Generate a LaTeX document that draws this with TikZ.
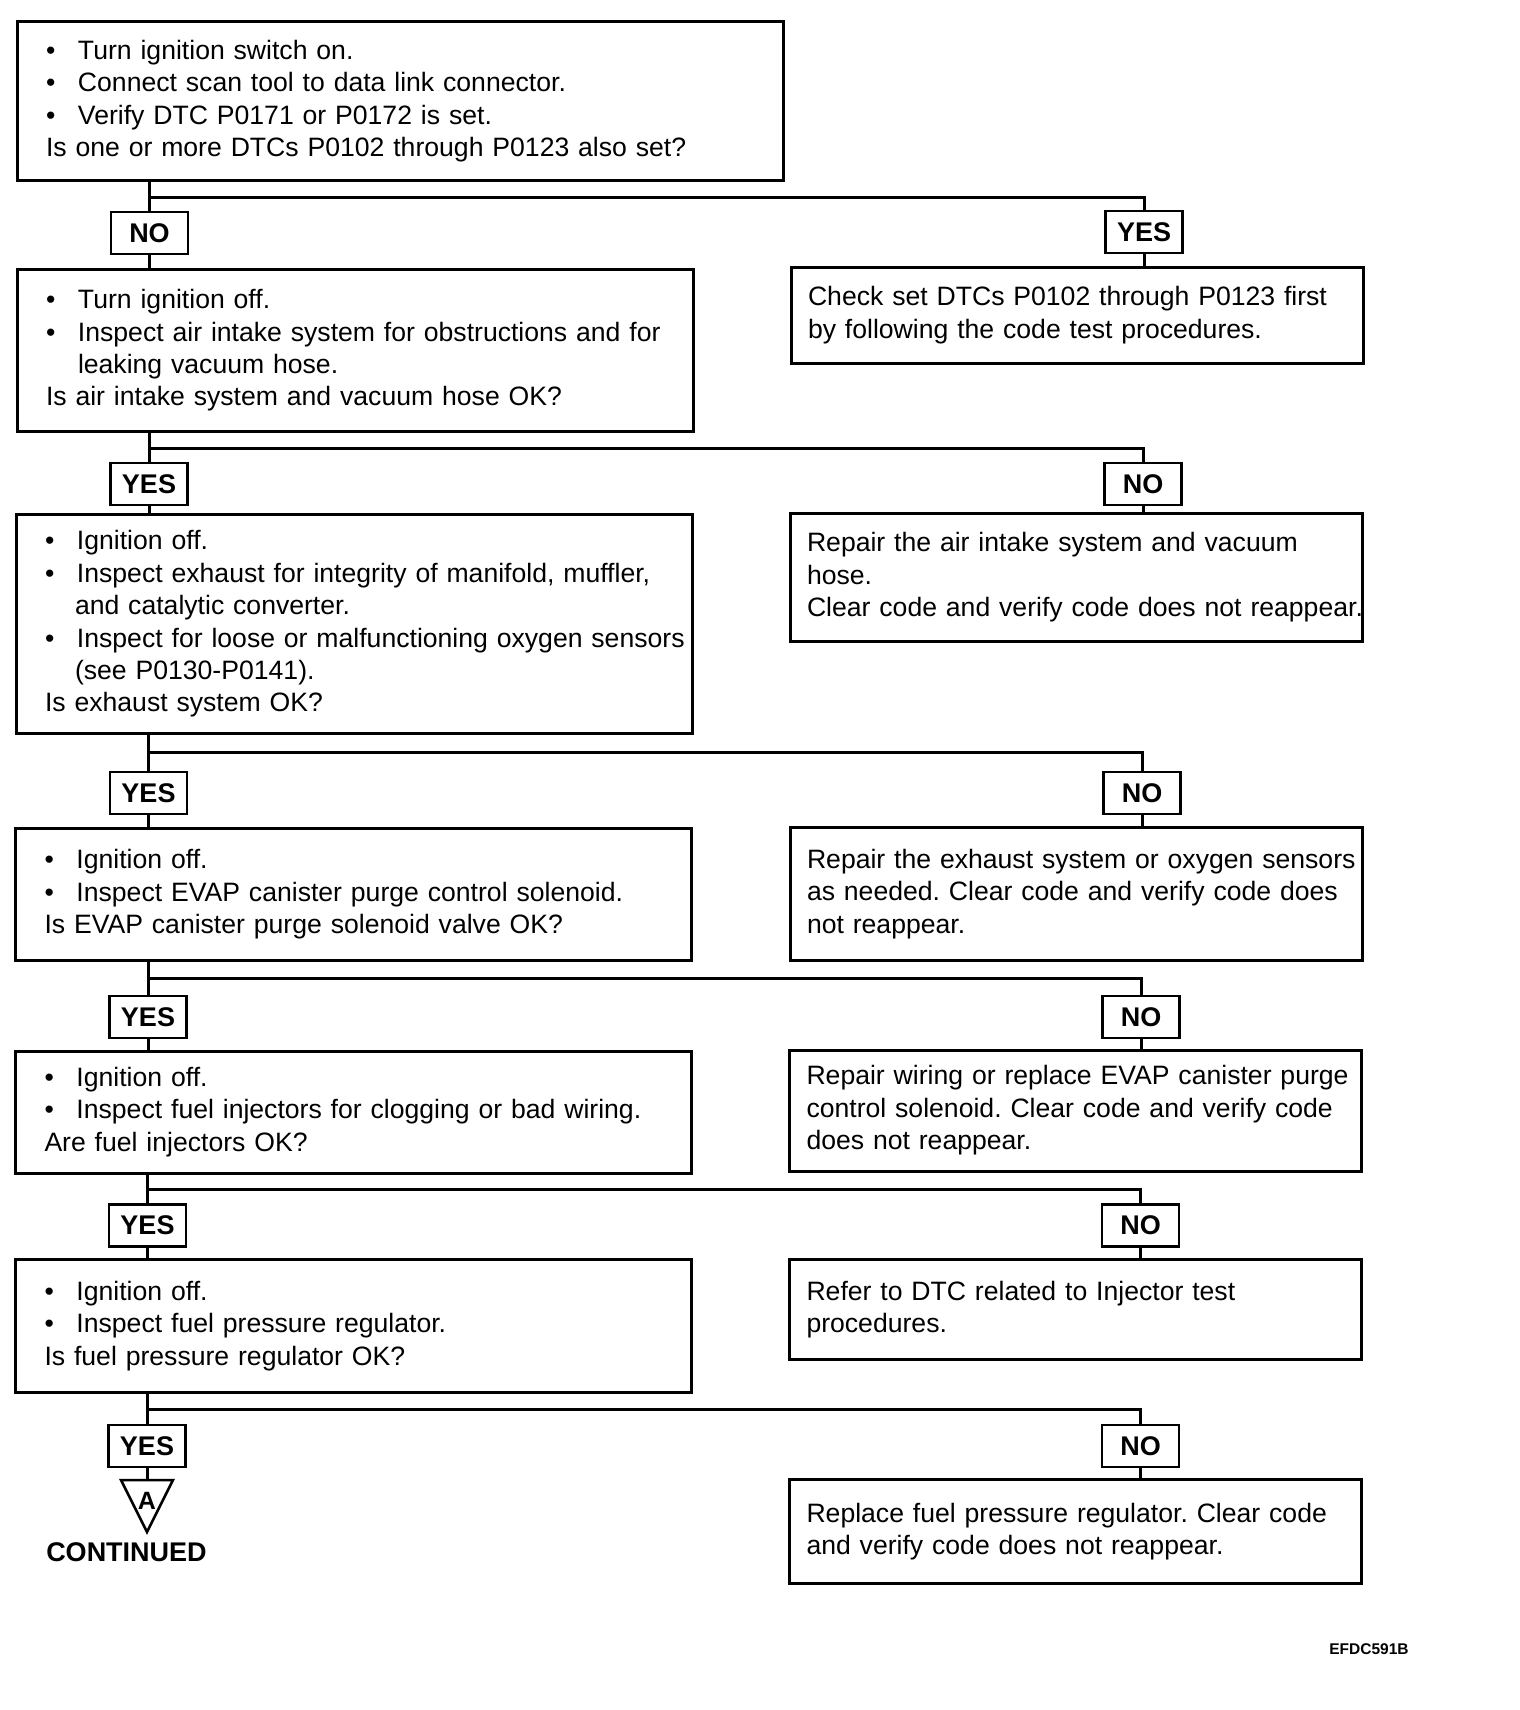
\documentclass[tikz,border=0pt]{standalone}
\usepackage{fontspec}
\setmainfont{Liberation Sans}
\usetikzlibrary{calc}
\frenchspacing
\newcommand\bodyfont{\fontsize{26.6}{32.4}\selectfont}
\newcommand\tagfont{\bfseries\fontsize{27}{32}\selectfont}
\newcommand\bl{\makebox[32pt][l]{\textbullet}}
\newcommand\ind{\hspace*{32pt}}
\tikzset{
  box/.style={draw, line width=3pt, align=left, font=\bodyfont, inner ysep=0pt, outer sep=0pt},
  lbox/.style={box, inner xsep=29pt, text width=618pt},
  rbox/.style={box, inner xsep=17pt, text width=538pt},
  tag/.style={draw, line width=2.5pt, font=\tagfont, minimum width=77pt, minimum height=42pt, inner sep=0pt, outer sep=0pt},
  wire/.style={line width=3pt},
}
\begin{document}
\begin{tikzpicture}[x=1pt,y=-1pt]
\useasboundingbox (0,0) rectangle (1520,1710);
% left column boxes
\node[lbox, text width=708pt, minimum height=158pt] (b1) at (400,101)
 {\mbox{\bl Turn ignition switch on.}\\
  \mbox{\bl Connect scan tool to data link connector.}\\
  \mbox{\bl Verify DTC P0171 or P0172 is set.}\\
  \mbox{Is one or more DTCs P0102 through P0123 also set?}};
\node[lbox, minimum height=162pt] (b2) at (355,350.5)
 {\mbox{\bl Turn ignition off.}\\
  \mbox{\bl Inspect air intake system for obstructions and for}\\
  \mbox{\ind leaking vacuum hose.}\\
  \mbox{Is air intake system and vacuum hose OK?}};
\node[lbox, minimum height=219pt] (b3) at (354,624)
 {\mbox{\bl Ignition off.}\\
  \mbox{\bl Inspect exhaust for integrity of manifold, muffler,}\\
  \mbox{\hspace*{30pt}and catalytic converter.}\\
  \mbox{\bl Inspect for loose or malfunctioning oxygen sensors}\\
  \mbox{\hspace*{30pt}(see P0130-P0141).}\\
  \mbox{Is exhaust system OK?}};
\node[lbox, minimum height=132pt] (b4) at (353.5,894.5)
 {\mbox{\bl Ignition off.}\\
  \mbox{\bl Inspect EVAP canister purge control solenoid.}\\
  \mbox{Is EVAP canister purge solenoid valve OK?}};
\node[lbox, minimum height=122pt] (b5) at (353.5,1112)
 {\mbox{\bl Ignition off.}\\
  \mbox{\bl Inspect fuel injectors for clogging or bad wiring.}\\
  \mbox{Are fuel injectors OK?}};
\node[lbox, minimum height=133pt] (b6) at (353.5,1326)
 {\mbox{\bl Ignition off.}\\
  \mbox{\bl Inspect fuel pressure regulator.}\\
  \mbox{Is fuel pressure regulator OK?}};
% right column boxes
\node[rbox, minimum height=96pt] (r1) at (1077,315)
 {\mbox{Check set DTCs P0102 through P0123 first}\\
  \mbox{by following the code test procedures.}};
\node[rbox, minimum height=128pt] (r2) at (1076,577.5)
 {\mbox{Repair the air intake system and vacuum}\\
  \mbox{hose.}\\
  \mbox{Clear code and verify code does not reappear.}};
\node[rbox, minimum height=133pt] (r3) at (1076,894)
 {\mbox{Repair the exhaust system or oxygen sensors}\\
  \mbox{as needed. Clear code and verify code does}\\
  \mbox{not reappear.}};
\node[rbox, minimum height=121pt] (r4) at (1075.5,1110.5)
 {\mbox{Repair wiring or replace EVAP canister purge}\\
  \mbox{control solenoid. Clear code and verify code}\\
  \mbox{does not reappear.}};
\node[rbox, minimum height=100pt] (r5) at (1075.5,1309.5)
 {\mbox{Refer to DTC related to Injector test}\\
  \mbox{procedures.}};
\node[rbox, minimum height=104pt] (r6) at (1075.5,1531.5)
 {\mbox{Replace fuel pressure regulator. Clear code}\\
  \mbox{and verify code does not reappear.}};
% tags
\node[tag] (ln1) at (149.5,233) {NO};
\node[tag] (rn1) at (1144,232) {YES};
\node[tag] (ln2) at (149,484) {YES};
\node[tag] (rn2) at (1143,484) {NO};
\node[tag] (ln3) at (148.5,793) {YES};
\node[tag] (rn3) at (1142,793) {NO};
\node[tag] (ln4) at (148,1017) {YES};
\node[tag] (rn4) at (1141,1017) {NO};
\node[tag] (ln5) at (147.5,1225.5) {YES};
\node[tag] (rn5) at (1140.5,1225.5) {NO};
\node[tag] (ln6) at (147,1446) {YES};
\node[tag] (rn6) at (1140.5,1446) {NO};
% junctions
\coordinate (j1) at (149.5,197.5);
\coordinate (j2) at (149,448.5);
\coordinate (j3) at (148.5,752.5);
\coordinate (j4) at (148,978);
\coordinate (j5) at (147.5,1189.5);
\coordinate (j6) at (147,1409);
% connectors
\foreach \a/\l/\r/\nl/\nr/\j in {b1/ln1/rn1/b2/r1/j1, b2/ln2/rn2/b3/r2/j2, b3/ln3/rn3/b4/r3/j3, b4/ln4/rn4/b5/r4/j4, b5/ln5/rn5/b6/r5/j5}{
  \draw[wire] (\a.south -| \l.north) -- (\l.north);
  \draw[wire] (\j) -| (\r.north);
  \draw[wire] (\l.south) -- (\l.south |- \nl.north);
  \draw[wire] (\r.south) -- (\r.south |- \nr.north);
}
\draw[wire] (b6.south -| ln6.north) -- (ln6.north);
\draw[wire] (j6) -| (rn6.north);
\draw[wire] (rn6.south) -- (rn6.south |- r6.north);
% continuation triangle
\coordinate (tritop) at (147,1480);
\draw[line width=2.5pt, line join=miter] (121,1480) -- (173,1480) -- (147,1532) -- cycle;
\node[font=\bfseries\fontsize{25}{28}\selectfont, inner sep=0pt] (triA) at (147,1501) {A};
\draw[wire] (ln6.south) -- (tritop);
\node[font=\bfseries\fontsize{27}{32}\selectfont, inner sep=0pt] (cont) at (126.5,1552) {CONTINUED};
\node[font=\bfseries\fontsize{15.5}{18}\selectfont, inner sep=0pt] (code) at (1369,1649) {EFDC591B};
\end{tikzpicture}
\end{document}
